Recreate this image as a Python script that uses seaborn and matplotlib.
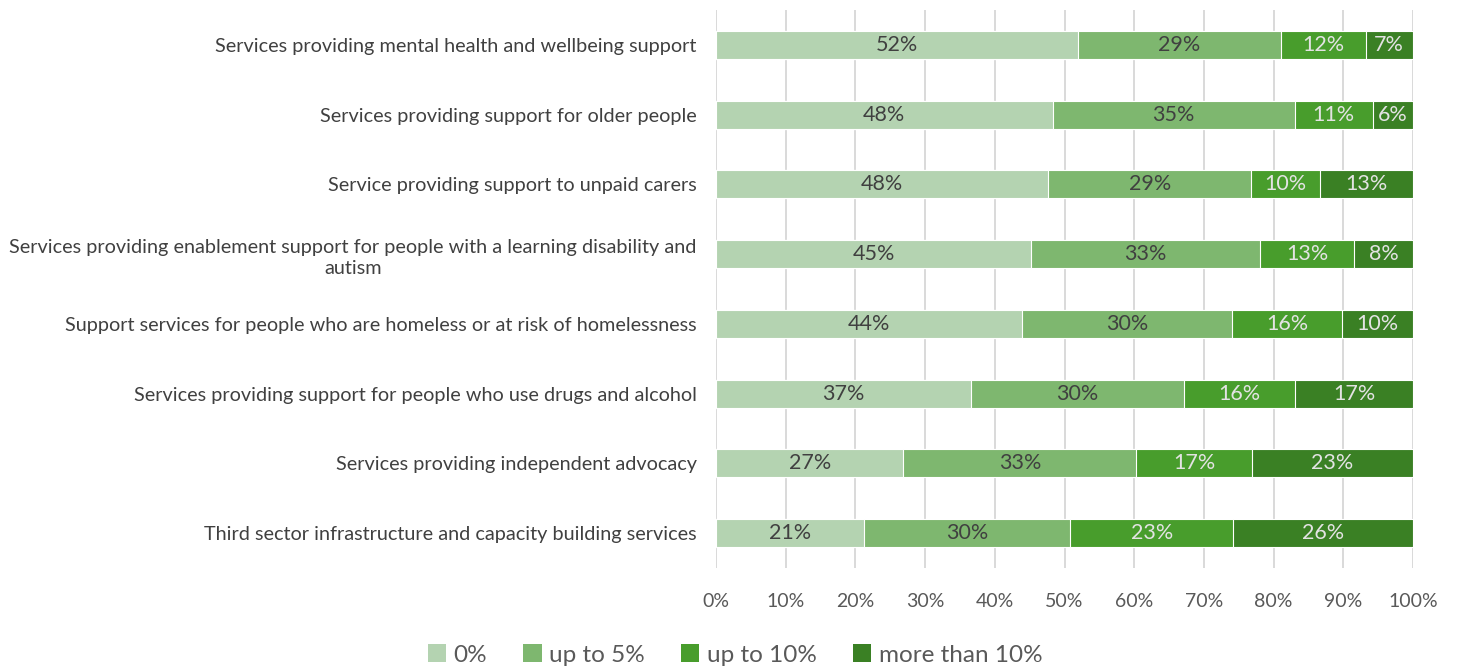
import numpy as np
import pandas as pd
import matplotlib
matplotlib.use("Agg")
import matplotlib.pyplot as plt
import seaborn as sns
from matplotlib.patches import Patch

categories = [
    "Services providing mental health and wellbeing support",
    "Services providing support for older people",
    "Service providing support to unpaid carers",
    "Services providing enablement support for people with a learning disability and\nautism",
    "Support services for people who are homeless or at risk of homelessness",
    "Services providing support for people who use drugs and alcohol",
    "Services providing independent advocacy",
    "Third sector infrastructure and capacity building services",
]
series_names = ["0%", "up to 5%", "up to 10%", "more than 10%"]
share_0 = [51.9, 48.3, 47.7, 45.2, 43.9, 36.6, 26.9, 21.2]
share_5 = [29.2, 34.7, 29.1, 32.9, 30.2, 30.5, 33.4, 29.6]
share_10 = [12.1, 11.2, 9.9, 13.4, 15.7, 16.0, 16.6, 23.4]
share_more = [6.8, 5.8, 13.3, 8.5, 10.2, 16.9, 23.1, 25.8]
tick_values = [0, 10, 20, 30, 40, 50, 60, 70, 80, 90, 100]

colors = ["#B4D3B1", "#7EB76F", "#489D2C", "#3A8024"]
label_colors = ["#404040", "#404040", "#E3E3E3", "#E3E3E3"]

sns.set_theme(style="white")
plt.rcParams["font.family"] = ["Lato", "DejaVu Sans"]

df = pd.DataFrame({"category": categories,
                   series_names[0]: share_0,
                   series_names[1]: share_5,
                   series_names[2]: share_10,
                   series_names[3]: share_more})
vals = df[series_names].to_numpy()
cum = np.cumsum(vals, axis=1)

fig = plt.figure(figsize=(14.58, 6.68), dpi=100)
ax = fig.add_axes([716 / 1458, 1 - 568 / 668, (1413 - 716) / 1458, (568 - 10) / 668])

for t in tick_values:
    ax.axvline(t, color="#D9D9D9", lw=1.4, zorder=0)

# stacked bars: draw cumulative totals from the widest down
for i in range(len(series_names) - 1, -1, -1):
    sns.barplot(x=cum[:, i], y=df["category"], orient="h", color=colors[i],
                width=0.4, saturation=1, edgecolor="white", linewidth=0.8,
                ax=ax, zorder=2)

for r in range(len(categories)):
    for i in range(len(series_names)):
        centre = cum[r, i] - vals[r, i] / 2
        ax.text(centre, r, f"{vals[r, i]:.0f}%", ha="center", va="center",
                fontsize=15.5, color=label_colors[i], zorder=3)

ax.set_xlim(0, 100)
ax.set_ylim(len(categories) - 0.5, -0.5)
ax.set_xticks(tick_values)
ax.set_xticklabels([f"{t}%" for t in tick_values])
ax.set_xlabel("")
ax.set_ylabel("")
for s in ax.spines.values():
    s.set_visible(False)
ax.tick_params(axis="x", length=0, pad=18, labelsize=14, labelcolor="#595959")
ax.tick_params(axis="y", length=0, pad=14, labelsize=14.3, labelcolor="#404040")
for lab in ax.get_yticklabels():
    lab.set_multialignment("center")
    lab.set_linespacing(1.3)

handles = [Patch(facecolor=c, edgecolor="none") for c in colors]
fig.legend(handles, series_names, loc="center", bbox_to_anchor=(735 / 1458, 1 - 655 / 668),
           ncol=4, frameon=False, fontsize=17.5, handlelength=0.75, handleheight=0.75,
           handletextpad=0.3, columnspacing=1.5, labelcolor="#595959")

fig.savefig("out.png", dpi=100, facecolor="white")
